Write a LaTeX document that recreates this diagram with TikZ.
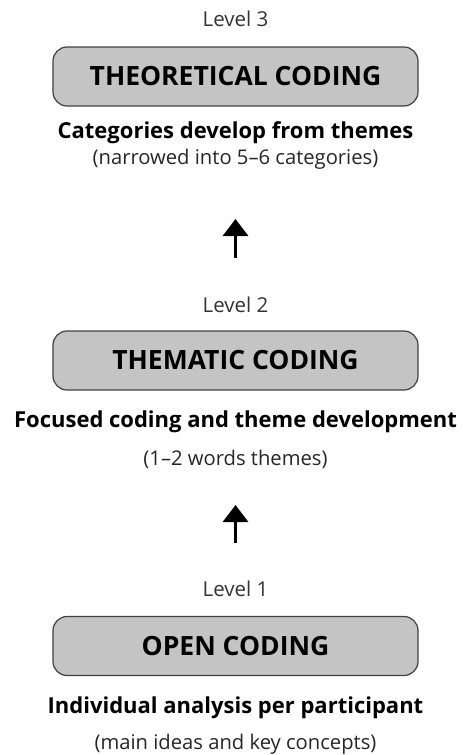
\documentclass[tikz,border=0pt]{standalone}
\usepackage{fontspec}
\setmainfont{Open Sans}
\usetikzlibrary{arrows.meta}
\tikzset{
  levellabel/.style={font=\fontsize{20.5}{22}\selectfont,text=black!80,anchor=base,inner sep=0pt},
  codebox/.style={draw=black!75,line width=1.2pt,fill=black!23,rounded corners=14pt,
    minimum width=365pt,minimum height=59pt,inner sep=0pt,font=\bfseries\fontsize{26.5}{28}\selectfont},
  subtitle/.style={font=\bfseries\fontsize{22}{24}\selectfont,anchor=base,inner sep=0pt},
  remark/.style={font=\fontsize{20.2}{22}\selectfont,text=black!85,anchor=base,inner sep=0pt},
  uparrow/.style={line width=3.2pt,-{Triangle[width=25pt,length=17pt]}}
}
\begin{document}
\begin{tikzpicture}[x=1pt,y=-1pt]
\useasboundingbox (0,0) rectangle (463,755);
%level 3
\node[levellabel] (lvthree) at (235.5,26) {Level 3};
\node[codebox] (boxthree) at (235.5,76.5) {THEORETICAL CODING};
\node[subtitle] (subthree) at (235.5,138) {Categories develop from themes};
\node[remark] (remthree) at (235.5,164.5) {(narrowed into 5--6 categories)};
%level 2
\node[levellabel] (lvtwo) at (235.5,312) {Level 2};
\node[codebox] (boxtwo) at (235.5,360.5) {THEMATIC CODING};
\node[subtitle] (subtwo) at (235.5,427) {Focused coding and theme development};
\node[remark] (remtwo) at (235.5,465.5) {(1--2 words themes)};
%level 1
\node[levellabel] (lvone) at (235.5,596) {Level 1};
\node[codebox] (boxone) at (235.5,646) {OPEN CODING};
\node[subtitle] (subone) at (235.5,713) {Individual analysis per participant};
\node[remark] (remone) at (235.5,749.5) {(main ideas and key concepts)};
%arrows
\coordinate (atwofrom) at (235.5,258);
\coordinate (atwoto) at (235.5,219);
\coordinate (aonefrom) at (235.5,543);
\coordinate (aoneto) at (235.5,505);
\draw[uparrow] (atwofrom) -- (atwoto);
\draw[uparrow] (aonefrom) -- (aoneto);
\end{tikzpicture}
\end{document}
